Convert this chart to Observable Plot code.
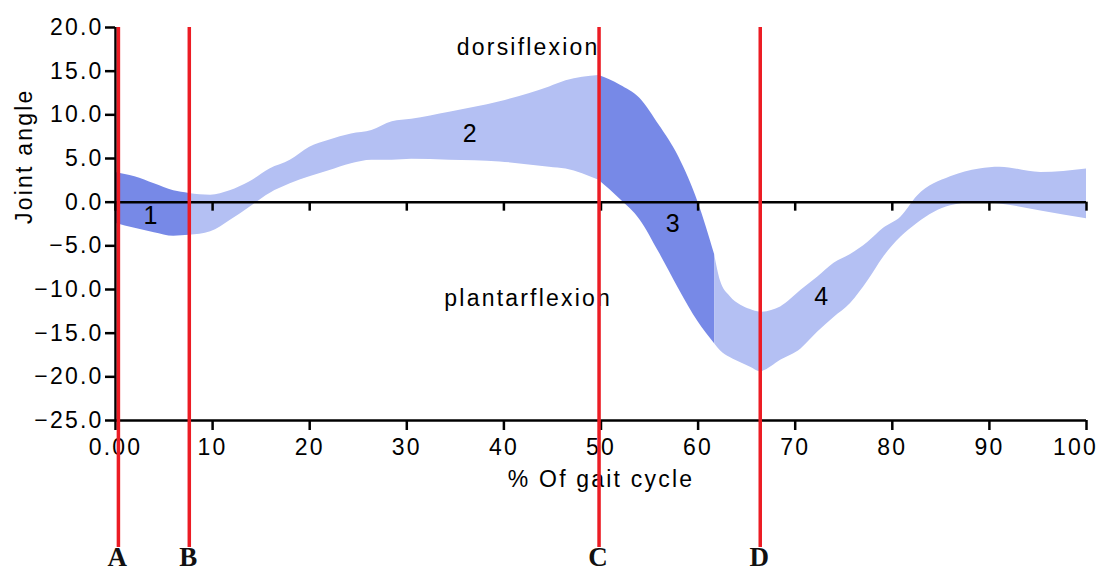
<!DOCTYPE html>
<html><head><meta charset="utf-8">
<script src="https://cdn.jsdelivr.net/npm/d3@7"></script>
<script src="https://cdn.jsdelivr.net/npm/@observablehq/plot@0.6"></script>
<style>body{margin:0;background:#fff} svg{display:block}</style>
</head><body><div id="chart"></div>
<script>
// % of gait cycle and the band edges (joint angle, degrees)
const gaitX      = [0, 2, 4, 6, 7.6, 9.8, 11.8, 13.8, 15.9, 18, 20, 22, 24.3, 26.4, 28.5, 30.5, 34.4, 39.6, 44.7, 46.4, 49.8, 52, 54, 56, 58, 60, 61.7, 62.3, 63.3, 64.4, 65.4, 66.4, 68.5, 70.6, 72.3, 74.0, 75.7, 77.5, 79.1, 80.9, 82.6, 86, 89, 91.1, 95.3, 100];
const upperAngle = [3.4, 2.9, 2.1, 1.3, 1.0, 0.8, 1.3, 2.3, 3.8, 4.8, 6.3, 7.1, 7.8, 8.2, 9.2, 9.5, 10.3, 11.5, 13.2, 13.9, 14.5, 13.4, 11.9, 8.8, 5.2, 0.0, -6.0, -9.0, -10.8, -11.8, -12.3, -12.6, -12.0, -10.1, -8.6, -7.0, -6.0, -4.6, -3.0, -1.7, 0.7, 2.9, 3.8, 4.0, 3.4, 3.8];
const lowerAngle = [-2.4, -3.0, -3.5, -3.9, -3.8, -3.4, -2.1, -0.6, 1.0, 2.1, 2.9, 3.6, 4.4, 4.8, 4.8, 4.9, 4.8, 4.6, 4.0, 3.8, 2.5, 0.3, -2.0, -5.8, -9.9, -13.7, -16.2, -17.0, -17.8, -18.4, -18.9, -19.4, -18.1, -16.8, -14.9, -13.2, -11.6, -9.0, -6.3, -4.0, -2.4, -0.4, 0.0, -0.2, -1.0, -1.9];

// phases of the band
const phaseNames  = ["1", "2", "3", "4"];
const phaseStart  = [0, 7.6, 49.8, 61.7];
const phaseEnd    = [7.6, 49.8, 61.7, 100];
const phaseShade  = ["dark", "light", "dark", "light"];
const phaseLabelX = [3.7, 36.6, 57.5, 72.8];
const phaseLabelY = [-1.6, 7.8, -2.5, -10.9];

// gait events (red lines)
const eventNames = ["A", "B", "C", "D"];
const eventX     = [0.3, 7.6, 49.8, 66.4];

// region annotations
const regionNames = ["dorsiflexion", "plantarflexion"];
const regionX     = [42.5, 42.5];
const regionY     = [17.7, -11.0];

// ticks
const xTicks = [0, 10, 20, 30, 40, 50, 60, 70, 80, 90, 100];
const yTicks = [-25, -20, -15, -10, -5, 0, 5, 10, 15, 20];

const shadeColor = {dark: "#7789e7", light: "#b4c0f3"};
const red = "#ec1c24";
const sans = "'Liberation Sans', Arial, Helvetica, sans-serif";

const rows = gaitX.map((x, i) => ({x, lo: lowerAngle[i], hi: upperAngle[i]}));

const bandMarks = phaseNames.map((p, k) =>
  Plot.areaY(rows.filter(d => d.x >= phaseStart[k] && d.x <= phaseEnd[k]), {
    x: "x", y1: "lo", y2: "hi", fill: shadeColor[phaseShade[k]], curve: "monotone-x"
  })
);

const xFmt = d => d === 0 ? "0.00" : String(d);
const lastTick = xTicks[xTicks.length - 1];

const chart = Plot.plot({
  width: 1107,
  height: 570,
  marginLeft: 115,
  marginRight: 21,
  marginTop: 27,
  marginBottom: 150,
  style: {fontFamily: sans, fontSize: "23px", letterSpacing: "2.2px", color: "black", background: "white"},
  x: {domain: [0, 100]},
  y: {domain: [-25, 20]},
  marks: [
    ...bandMarks,
    Plot.ruleY([0], {stroke: "black", strokeWidth: 2.5}),
    Plot.ruleX(xTicks, {x: d => d, y1: 0, y2: 0, insetBottom: -9, stroke: "black", strokeWidth: 2.5}),
    Plot.ruleX([0], {stroke: "black", strokeWidth: 2.5}),
    Plot.ruleY([-25], {stroke: "black", strokeWidth: 2.5}),
    Plot.axisY(yTicks, {tickSize: 10, tickPadding: 2, strokeWidth: 2.5, tickFormat: d3.format(".1f"), label: null, fontSize: 23}),
    Plot.axisX(xTicks.filter(d => d !== lastTick), {tickSize: 10, tickPadding: 8, strokeWidth: 2.5, tickFormat: xFmt, label: null, fontSize: 23}),
    Plot.axisX([lastTick], {tickSize: 10, strokeWidth: 2.5, text: null, label: null}),
    Plot.axisX([lastTick], {tickSize: 0, tickPadding: 18, tickFormat: xFmt, label: null, fontSize: 23, dx: -11}),
    Plot.text(["Joint angle"], {frameAnchor: "left", rotate: -90, dx: -91, fontSize: 23}),
    Plot.text(["% Of gait cycle"], {frameAnchor: "bottom", dy: 66, fontSize: 23}),
    Plot.text(regionNames, {x: regionX, y: regionY, fontSize: 23}),
    Plot.text(phaseNames, {x: phaseLabelX, y: phaseLabelY, fontSize: 25}),
    Plot.ruleX(eventX, {stroke: red, strokeWidth: 3.5, insetBottom: -127}),
    Plot.text(eventNames, {x: eventX, frameAnchor: "bottom", dy: 145, fontFamily: "'Liberation Serif', 'Times New Roman', serif", fontWeight: "bold", fontSize: 27, letterSpacing: "0px", fill: "#111"})
  ]
});
document.getElementById("chart").appendChild(chart);
</script>
</body></html>
